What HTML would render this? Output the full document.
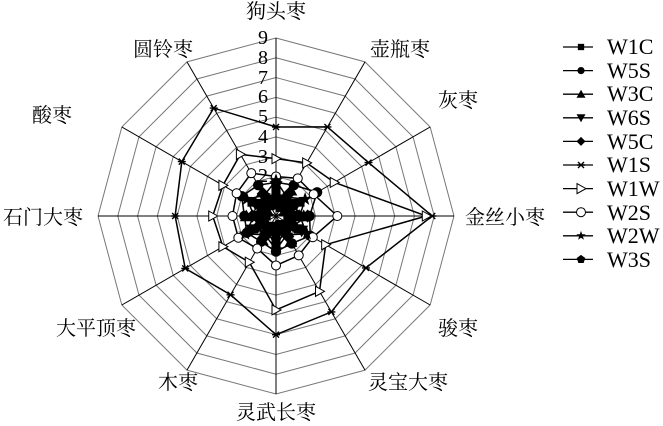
<!DOCTYPE html>
<html><head><meta charset="utf-8">
<style>
html,body{margin:0;padding:0;background:#fff;}
svg{display:block;}
text{font-family:"Liberation Serif","Noto Serif CJK SC","Noto Sans CJK SC",serif;fill:#000;}
</style></head>
<body>
<svg id="s" width="663" height="426" viewBox="0 0 663 426" xmlns="http://www.w3.org/2000/svg">
<g id="grid"></g>
<g id="series"></g>
<g font-size="20">
<text x="276" y="18" text-anchor="middle">狗头枣</text>
<text x="400" y="56" text-anchor="middle">壶瓶枣</text>
<text x="458" y="107" text-anchor="middle">灰枣</text>
<text x="505" y="224" text-anchor="middle">金丝小枣</text>
<text x="458" y="335" text-anchor="middle">骏枣</text>
<text x="408" y="389" text-anchor="middle">灵宝大枣</text>
<text x="276" y="419" text-anchor="middle">灵武长枣</text>
<text x="178" y="389" text-anchor="middle">木枣</text>
<text x="96" y="335" text-anchor="middle">大平顶枣</text>
<text x="43" y="224" text-anchor="middle">石门大枣</text>
<text x="52" y="122" text-anchor="middle">酸枣</text>
<text x="163" y="56" text-anchor="middle">圆铃枣</text>
</g>
<g font-size="20" text-anchor="middle">
<text x="263" y="44">9</text><text x="263" y="64">8</text><text x="263" y="84">7</text>
<text x="263" y="103">6</text><text x="263" y="123">5</text><text x="263" y="143">4</text>
<text x="263" y="163">3</text><text x="263" y="182">2</text>
</g>
<g id="legend" font-size="22">
<text x="607" y="54">W1C</text><text x="607" y="78">W5S</text><text x="607" y="101">W3C</text>
<text x="607" y="125">W6S</text><text x="607" y="149">W5C</text><text x="607" y="172">W1S</text>
<text x="607" y="196">W1W</text><text x="607" y="220">W2S</text><text x="607" y="243">W2W</text>
<text x="607" y="267">W3S</text>
</g>
</svg>
<script>
var cx=276,cy=216,R=178,u=R/9,NS="http://www.w3.org/2000/svg";
function el(t,a,p){var e=document.createElementNS(NS,t);for(var k in a)e.setAttribute(k,a[k]);p.appendChild(e);return e;}
function pt(i,v){var a=i*Math.PI/6;return [cx+v*u*Math.sin(a),cy-v*u*Math.cos(a)];}
var g=document.getElementById('grid');
for(var r=1;r<=9;r++){var p=[];for(var i=0;i<12;i++)p.push(pt(i,r).join(','));el('polygon',{points:p.join(' '),fill:'none',stroke:'#777','stroke-width':1},g);}
for(var i=0;i<12;i++){var q=pt(i,9);el('line',{x1:cx,y1:cy,x2:q[0],y2:q[1],stroke:'#000','stroke-width':1},g);}
function marker(t,x,y,p,sc){
 sc=sc||1;var s=3.5*sc;
 if(t=='sq')el('rect',{x:x-s,y:y-s,width:2*s,height:2*s,fill:'#000'},p);
 else if(t=='fc')el('circle',{cx:x,cy:y,r:4*sc,fill:'#000'},p);
 else if(t=='oc')el('circle',{cx:x,cy:y,r:4.5,fill:'#fff',stroke:'#000','stroke-width':1},p);
 else if(t=='tu')el('polygon',{points:(x)+','+(y-5*sc)+' '+(x+5*sc)+','+(y+4*sc)+' '+(x-5*sc)+','+(y+4*sc),fill:'#000'},p);
 else if(t=='td')el('polygon',{points:(x)+','+(y+5*sc)+' '+(x+5*sc)+','+(y-4*sc)+' '+(x-5*sc)+','+(y-4*sc),fill:'#000'},p);
 else if(t=='dm')el('polygon',{points:x+','+(y-5*sc)+' '+(x+5*sc)+','+y+' '+x+','+(y+5*sc)+' '+(x-5*sc)+','+y,fill:'#000'},p);
 else if(t=='as'){var d='M'+(x-4)+' '+y+'H'+(x+4)+'M'+(x-3)+' '+(y-3)+'L'+(x+3)+' '+(y+3)+'M'+(x-3)+' '+(y+3)+'L'+(x+3)+' '+(y-3);el('path',{d:d,stroke:'#000','stroke-width':1.4,fill:'none'},p);}
 else if(t=='tr')el('polygon',{points:(x-4)+','+(y-5)+' '+(x+5)+','+y+' '+(x-4)+','+(y+5),fill:'#fff',stroke:'#000','stroke-width':1},p);
 else if(t=='st'){var pts=[];for(var k=0;k<10;k++){var rr=(k%2?2.2:5.5)*sc,a=k*Math.PI/5;pts.push((x+rr*Math.sin(a))+','+(y-rr*Math.cos(a)));}el('polygon',{points:pts.join(' '),fill:'#000'},p);}
 else if(t=='pe'){var pts=[];for(var k=0;k<5;k++){var a=k*2*Math.PI/5;pts.push((x+5*sc*Math.sin(a))+','+(y-5*sc*Math.cos(a)));}el('polygon',{points:pts.join(' '),fill:'#000'},p);}
}
var S=document.getElementById('series');
var data=[
['sq',[1.3,0.5,1.4,0.6,1.3,0.5,1.4,0.6,1.3,0.5,1.4,0.6]],
['fc',[1.7,1.8,2.4,1.7,2.0,1.6,1.8,1.5,1.7,1.6,2.0,1.8]],
['tu',[0.6,1.5,0.5,1.4,0.6,1.5,0.5,1.4,0.6,1.5,0.5,1.4]],
['td',[1.5,0.7,1.2,0.8,1.5,0.7,1.3,0.7,1.4,0.8,1.2,0.7]],
['dm',[1.0,1.3,0.9,1.6,1.0,1.2,0.9,1.3,1.0,1.2,0.9,1.3]],
['as',[4.5,5.2,5.4,7.9,5.25,5.6,6.0,4.6,5.3,5.1,5.5,6.3]],
['tr',[2.9,3.1,3.4,7.6,2.9,4.4,4.75,2.7,3.1,3.2,3.1,3.6]],
['oc',[2.0,2.2,2.2,3.1,2.15,2.3,2.5,1.9,2.2,2.2,2.3,2.5]],
['st',[1.8,1.1,1.7,1.2,1.8,1.1,1.7,1.1,1.8,1.1,1.7,1.2]],
['pe',[0.8,1.0,0.7,1.1,0.8,0.9,0.7,1.0,0.8,0.9,0.7,1.0]]
];
data.forEach(function(d){var p=[];for(var i=0;i<12;i++)p.push(pt(i,d[1][i]));
 el('polygon',{points:p.map(function(a){return a.join(',')}).join(' '),fill:'none',stroke:'#000','stroke-width':1.5},S);
 p.forEach(function(a){marker(d[0],a[0],a[1],S,1.3);});});
var L=document.getElementById('legend');
data.forEach(function(d,k){var y=47+k*23.6;el('line',{x1:563,y1:y,x2:593,y2:y,stroke:'#000','stroke-width':1.3},L);marker(d[0],581,y,L,0.9);});
</script>
</body></html>
